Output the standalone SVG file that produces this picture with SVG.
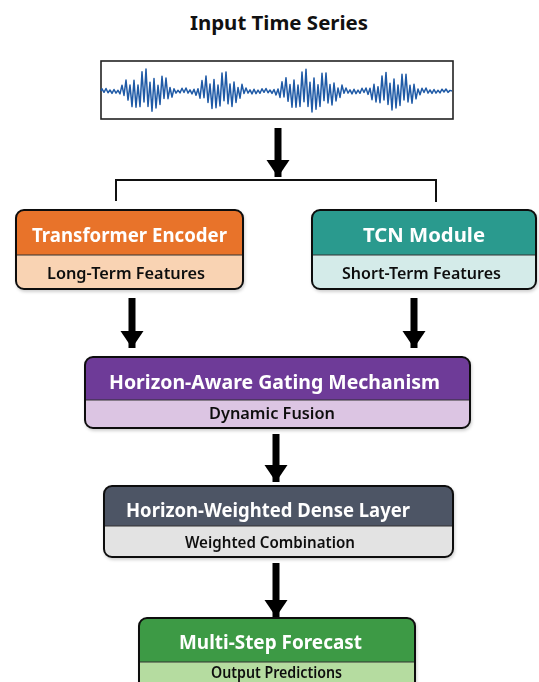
<svg xmlns="http://www.w3.org/2000/svg" width="539" height="682" viewBox="0 0 539 682">
<defs>
<marker id="ah" markerUnits="userSpaceOnUse" markerWidth="18" markerHeight="24" refX="17" refY="11.5" orient="auto">
<path d="M0,0 L17,11.5 L0,23 z" fill="#000"/>
</marker>
<filter id="sh" x="-5%" y="-5%" width="110%" height="120%"><feDropShadow dx="1" dy="2" stdDeviation="1.5" flood-color="#000" flood-opacity="0.18"/></filter>
</defs>
<style>
text{font-family:"Noto Sans","Open Sans","Liberation Sans",sans-serif;text-anchor:middle}
.t{font-size:19px;font-weight:700;fill:#fff}
.s{font-size:16px;font-weight:600;fill:#111}
.bd{fill:none;stroke:#111;stroke-width:2}
.ar{stroke:#000;stroke-width:7;fill:none;marker-end:url(#ah)}
</style>
<rect width="539" height="682" fill="#fff"/>
<g id="input">
<text x="279" y="30" textLength="178" lengthAdjust="spacingAndGlyphs" style="font-size:19px;font-weight:700;fill:#111">Input Time Series</text>
<rect x="101" y="61" width="352" height="58" fill="#fff" stroke="#222" stroke-width="1.6"/>
<polyline fill="none" stroke="#1f5aa6" stroke-width="1.5" stroke-linejoin="round" points="101,91 102,88.8 104,92.3 106,88.5 108,92.8 110,90 112,93.4 114,89.5 116,93.1 118,90.3 120,93.9 122,85.2 124,95.4 126,80 128,100.1 130,85.1 132,106.6 134,80.3 136,107.2 138,85 140,106.6 142,71.7 144,101.9 146,69 148,106.4 150,82.3 152,111.3 154,78.5 156,108 158,85.3 160,104.4 162,76.2 164,98.4 166,78 168,98.7 170,87.5 172,97.2 174,88.7 176,93.1 178,90.3 180,92.9 182,88.3 184,92.5 186,88 188,93.1 190,89.8 192,93.9 194,89.2 196,95.3 198,88.8 200,98.2 202,80.6 204,97.7 206,76.1 208,102.4 210,84 212,108.4 214,79.5 216,107.7 218,85 220,106 222,73.1 224,100.8 226,71.9 228,103.8 230,84 232,106.5 234,82.1 236,102.4 238,87.5 240,98.2 242,84.3 244,93.6 246,88 248,93.1 250,89.8 252,93.9 254,89.2 256,93.6 258,90.1 260,93.3 262,88.8 264,92.3 266,88.5 268,92.8 270,90 272,93.4 274,89.5 276,94.9 278,89 280,97.4 282,81.8 284,96.9 286,77.7 288,101.3 290,84.6 292,107.2 294,80.1 296,107.2 298,85.1 300,106.4 302,72.1 304,101.8 306,69.2 308,106.4 310,82.2 312,111.9 314,77.9 316,109.3 318,84.7 320,106.4 322,73.2 324,100.6 326,72.9 328,103 330,84.6 332,105 334,83 336,101 338,87.9 340,97.4 342,85.1 344,93.3 346,88 348,93.1 350,89.8 352,93.9 354,89.2 356,93.6 358,90.1 360,93.3 362,88.3 364,92.5 366,88 368,94.4 370,88.2 372,99.7 374,84.3 376,101.9 378,86.7 380,102.7 382,75.9 384,99.9 386,72.4 388,104.4 390,83.2 392,109.9 394,79 396,107.9 398,85.1 400,105.4 402,74.3 404,99.9 406,74.2 408,101.9 410,85.3 412,103.2 414,84.3 416,98.8 418,88.9 420,94.7 422,88.3 424,92.5 426,88 428,93.1 430,90 432,93.4 434,89.5 436,93.1 438,90.3 440,92.9 442,89.2 444,92 446,89 448,92.4 450,90.4 452,91"/>
</g>
<g id="connectors">
<line class="ar" x1="278" y1="128" x2="278" y2="177"/>
<polyline points="116,201 116,180 436,180 436,202" fill="none" stroke="#111" stroke-width="2"/>
<line class="ar" x1="132" y1="298" x2="132" y2="348"/>
<line class="ar" x1="414" y1="298" x2="414" y2="348"/>
<line class="ar" x1="276" y1="434" x2="276" y2="482"/>
<line class="ar" x1="276" y1="563" x2="276" y2="617"/>
</g>
<g id="transformer" filter="url(#sh)">
<rect x="16" y="210" width="227" height="79" rx="8" fill="#f9d3b3"/>
<path d="M24,210 H235 A8,8 0 0 1 243,218 V255 H16 V218 A8,8 0 0 1 24,210 Z" fill="#e8732a"/>
<line x1="16" y1="255" x2="243" y2="255" stroke="#333" stroke-width="1"/>
<rect class="bd" x="16" y="210" width="227" height="79" rx="8"/>
<text class="t" x="129.5" y="242" textLength="195" lengthAdjust="spacingAndGlyphs">Transformer Encoder</text>
<text class="s" x="126" y="279" textLength="158" lengthAdjust="spacingAndGlyphs">Long-Term Features</text>
</g>
<g id="tcn" filter="url(#sh)">
<rect x="312" y="210" width="224" height="79" rx="8" fill="#d4ebe9"/>
<path d="M320,210 H528 A8,8 0 0 1 536,218 V255 H312 V218 A8,8 0 0 1 320,210 Z" fill="#2a9a8e"/>
<line x1="312" y1="255" x2="536" y2="255" stroke="#333" stroke-width="1"/>
<rect class="bd" x="312" y="210" width="224" height="79" rx="8"/>
<text class="t" x="424" y="242" textLength="122" lengthAdjust="spacingAndGlyphs">TCN Module</text>
<text class="s" x="421.5" y="279" textLength="159" lengthAdjust="spacingAndGlyphs">Short-Term Features</text>
</g>
<g id="gating" filter="url(#sh)">
<rect x="85" y="357" width="385" height="71" rx="8" fill="#dcc5e3"/>
<path d="M93,357 H462 A8,8 0 0 1 470,365 V400 H85 V365 A8,8 0 0 1 93,357 Z" fill="#6e3b98"/>
<line x1="85" y1="400" x2="470" y2="400" stroke="#333" stroke-width="1"/>
<rect class="bd" x="85" y="357" width="385" height="71" rx="8"/>
<text class="t" x="274.5" y="389" textLength="331" lengthAdjust="spacingAndGlyphs" style="font-size:20px">Horizon-Aware Gating Mechanism</text>
<text class="s" x="272" y="419" textLength="126" lengthAdjust="spacingAndGlyphs">Dynamic Fusion</text>
</g>
<g id="dense" filter="url(#sh)">
<rect x="104" y="486" width="349" height="71" rx="8" fill="#e3e3e3"/>
<path d="M112,486 H445 A8,8 0 0 1 453,494 V526 H104 V494 A8,8 0 0 1 112,486 Z" fill="#4e5565"/>
<line x1="104" y1="526" x2="453" y2="526" stroke="#333" stroke-width="1"/>
<rect class="bd" x="104" y="486" width="349" height="71" rx="8"/>
<text class="t" x="268" y="517" textLength="284" lengthAdjust="spacingAndGlyphs">Horizon-Weighted Dense Layer</text>
<text class="s" x="270" y="548" textLength="170" lengthAdjust="spacingAndGlyphs">Weighted Combination</text>
</g>
<g id="forecast" filter="url(#sh)">
<rect x="139" y="618" width="276" height="74" rx="8" fill="#b5dca0"/>
<path d="M147,618 H407 A8,8 0 0 1 415,626 V662 H139 V626 A8,8 0 0 1 147,618 Z" fill="#3e9a44"/>
<line x1="139" y1="662" x2="415" y2="662" stroke="#333" stroke-width="1"/>
<rect class="bd" x="139" y="618" width="276" height="74" rx="8"/>
<text class="t" x="270.5" y="649" textLength="183" lengthAdjust="spacingAndGlyphs">Multi-Step Forecast</text>
<text class="s" x="276.5" y="678" textLength="131" lengthAdjust="spacingAndGlyphs">Output Predictions</text>
</g>
</svg>
